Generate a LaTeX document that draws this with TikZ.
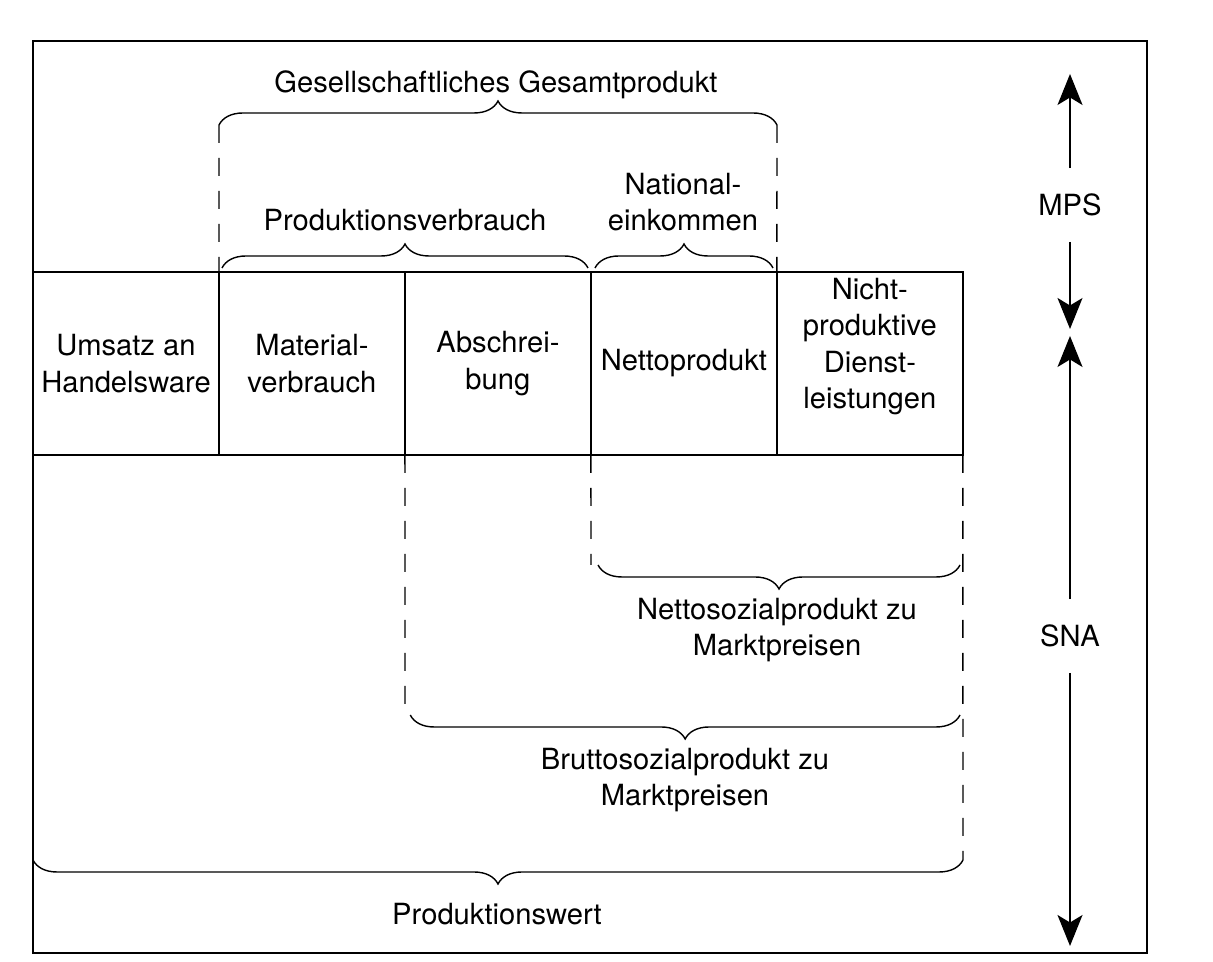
\documentclass[tikz,border=0pt]{standalone}
\usepackage{fontspec}
\setmainfont{TeX Gyre Heros}
\usetikzlibrary{positioning,decorations.pathreplacing,arrows.meta}

\tikzset{
  cell/.style={draw, minimum width=3.72cm, minimum height=3.66cm, inner sep=0pt, outer sep=0pt, align=center},
  dashline/.style={dash pattern=on 0.36cm off 0.3cm},
  curly/.style={decorate, decoration={brace, amplitude=0.48cm}},
  curlydown/.style={decorate, decoration={brace, mirror, amplitude=0.48cm}},
  farrow/.style={-{Stealth[length=0.62cm, width=0.5cm, inset=0.15cm]}},
  axislabel/.style={inner xsep=0pt, inner ysep=0.5cm},
}

\begin{document}
\begin{tikzpicture}[x=0.02cm, y=0.02cm, line width=0.8pt, font=\fontsize{16.6pt}{20.8pt}\selectfont]
  \useasboundingbox (0,0) rectangle (1213,962);
  \draw (33,9) rectangle (1147,921);

  \node [cell] (umsatz) at (126,598.5) {Umsatz an\\Handelsware};
  \node [cell, right=0pt of umsatz] (material) {Material-\\verbrauch};
  \node [cell, right=0pt of material] (abschr) {Abschrei-\\bung};
  \node [cell, right=0pt of abschr] (netto) {Nettoprodukt};
  \node [cell, right=0pt of netto] (nicht) {};
  \node [align=center, yshift=0.34cm] (nichttext) at (nicht) {Nicht-\\produktive\\Dienst-\\leistungen};

  \coordinate (gesl) at (219,837);
  \coordinate (gesr) at (777,837);
  \draw [curly] (gesl) -- (gesr);
  \draw [dashline] (gesl) -- (material.north west);
  \draw [dashline] (gesr) -- (nicht.north west);
  \node (gestext) at (496,877) {Gesellschaftliches Gesamtprodukt};

  \coordinate (pvl) at (222,694);
  \coordinate (pvr) at (588,694);
  \draw [curly] (pvl) -- (pvr);
  \node (pvtext) at (405,742) {Produktionsverbrauch};

  \coordinate (nel) at (595,694);
  \coordinate (ner) at (773,694);
  \draw [curly] (nel) -- (ner);
  \node [align=center] (netext) at (683,760) {National-\\einkommen};

  \coordinate (nspl) at (591,397);
  \coordinate (nspr) at (960,397);
  \coordinate (pwr) at (963,102);
  \draw [dashline] (netto.south west) -- (nspl);
  \draw [dashline] (nicht.south east) -- (pwr);
  \draw [curlydown] ([xshift=4]nspl) -- (nspr);
  \node [align=center] (nsptext) at (777,332) {Nettosozialprodukt zu\\Marktpreisen};

  \coordinate (bspl) at (405,247);
  \coordinate (bspr) at (960,247);
  \draw [dashline] (abschr.south west) -- (bspl);
  \draw [curlydown] ([xshift=3]bspl) -- (bspr);
  \node [align=center] (bsptext) at (685,182) {Bruttosozialprodukt zu\\Marktpreisen};

  \coordinate (pwl) at (33,102);
  \draw [curlydown] (pwl) -- (pwr);
  \node (pwtext) at (497,48) {Produktionswert};

  \node [axislabel] (mps) at (1070,757) {MPS};
  \coordinate (mpstop) at (1070,888);
  \coordinate (mpsbot) at (1070,633);
  \draw [farrow] (mps) -- (mpstop);
  \draw [farrow] (mps) -- (mpsbot);

  \node [axislabel] (sna) at (1070,326) {SNA};
  \coordinate (snatop) at (1070,626);
  \coordinate (snabot) at (1070,16);
  \draw [farrow] (sna) -- (snatop);
  \draw [farrow] (sna) -- (snabot);
\end{tikzpicture}
\end{document}
